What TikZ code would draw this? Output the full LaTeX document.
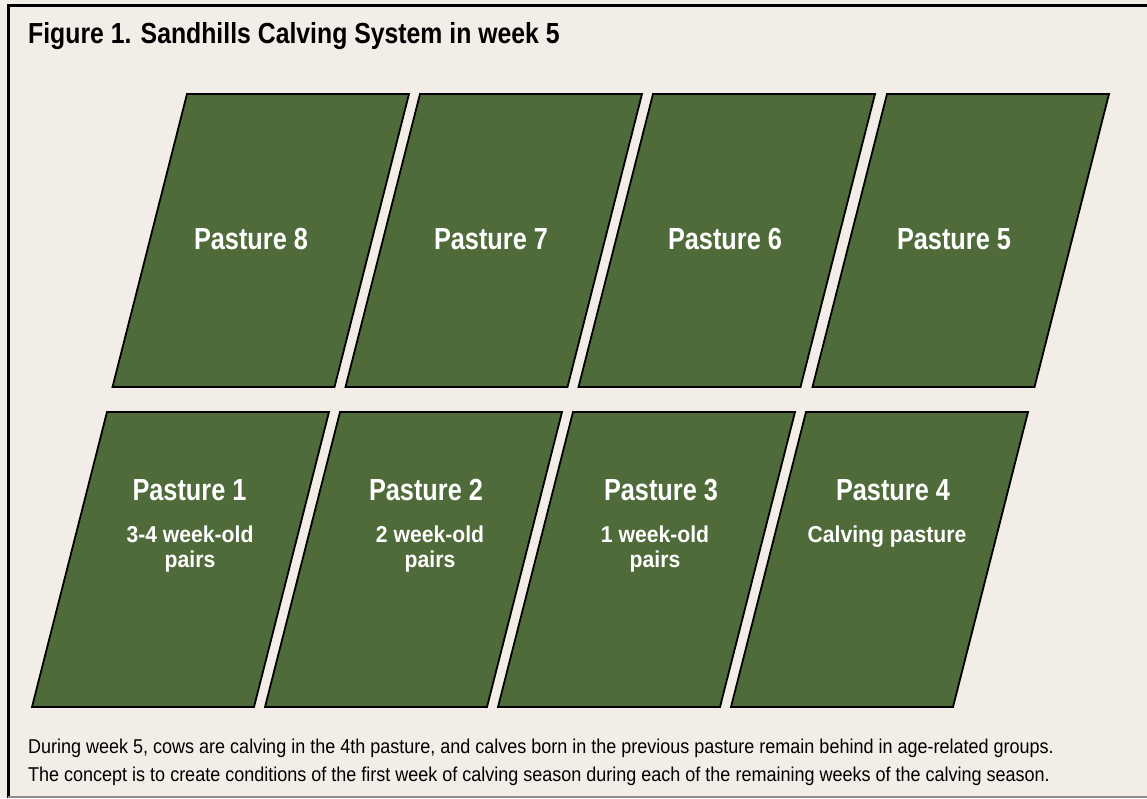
\documentclass[tikz,border=0pt]{standalone}
\usepackage{fontspec}
\setmainfont{Liberation Sans}
\newfontfamily\titlefont[FakeStretch=0.855]{Liberation Sans}
\newfontfamily\labelfont[FakeStretch=0.83]{Liberation Sans}
\newfontfamily\subfont[FakeStretch=0.92]{Liberation Sans}
\newfontfamily\notefont[FakeStretch=0.9]{Liberation Sans}
\definecolor{paper}{RGB}{243,237,231}
\definecolor{grass}{RGB}{80,107,58}

\begin{document}
\begin{tikzpicture}[x=1pt,y=-1pt,
  pasture/.style={fill=grass,draw=black,line width=1.8pt,line join=miter},
  pname/.style={text=white,anchor=base,inner sep=0pt,
    font=\labelfont\bfseries\fontsize{30.5}{34}\selectfont},
  pdetail/.style={text=white,anchor=base,inner sep=0pt,
    font=\subfont\bfseries\fontsize{23}{26}\selectfont},
  heading/.style={anchor=base west,inner sep=0pt,
    font=\titlefont\bfseries\fontsize{29}{33}\selectfont},
  note/.style={anchor=base west,inner sep=0pt,
    font=\notefont\fontsize{20}{24}\selectfont}]

% page and frame
\fill[paper] (0,0) rectangle (1147,798);
\useasboundingbox (0,0) rectangle (1147,798);
\draw[line width=3pt] (1147,5.5) -- (8.5,5.5) -- (8.5,798);
\draw[black!45,line width=2pt] (8,797) -- (1147,797);

% title
\node[heading] (title) at (28,43) {Figure 1. Sandhills Calving System in week 5};

% upper row of pastures (8 to 5)
\foreach \x in {187,420,653,887}
  \draw[pasture] (\x,94) -- (\x+222,94) -- (\x+147.5,387) -- (\x-74.5,387) -- cycle;

% lower row of pastures (1 to 4)
\foreach \x in {107,340,573,806}
  \draw[pasture] (\x,412) -- (\x+222,412) -- (\x+147,707) -- (\x-75,707) -- cycle;

% pasture names, upper row
\node[pname] (p8) at (251,249) {Pasture 8};
\node[pname] (p7) at (491,249) {Pasture 7};
\node[pname] (p6) at (725,249) {Pasture 6};
\node[pname] (p5) at (954,249) {Pasture 5};

% pasture names and groups, lower row
\node[pname] (p1) at (189.5,500) {Pasture 1};
\node[pname] (p2) at (426,500) {Pasture 2};
\node[pname] (p3) at (661,500) {Pasture 3};
\node[pname] (p4) at (893,500) {Pasture 4};

\node[pdetail] (p1a) at (190,542) {3-4 week-old};
\node[pdetail] (p1b) at (190,567) {pairs};
\node[pdetail] (p2a) at (430,542) {2 week-old};
\node[pdetail] (p2b) at (430,567) {pairs};
\node[pdetail] (p3a) at (655,542) {1 week-old};
\node[pdetail] (p3b) at (655,567) {pairs};
\node[pdetail] (p4a) at (887,542) {Calving pasture};

% explanatory note
\node[note] (n1) at (28,753) {During week 5, cows are calving in the 4th pasture, and calves born in the previous pasture remain behind in age-related groups.};
\node[note] (n2) at (28,781) {The concept is to create conditions of the first week of calving season during each of the remaining weeks of the calving season.};
\end{tikzpicture}
\end{document}
